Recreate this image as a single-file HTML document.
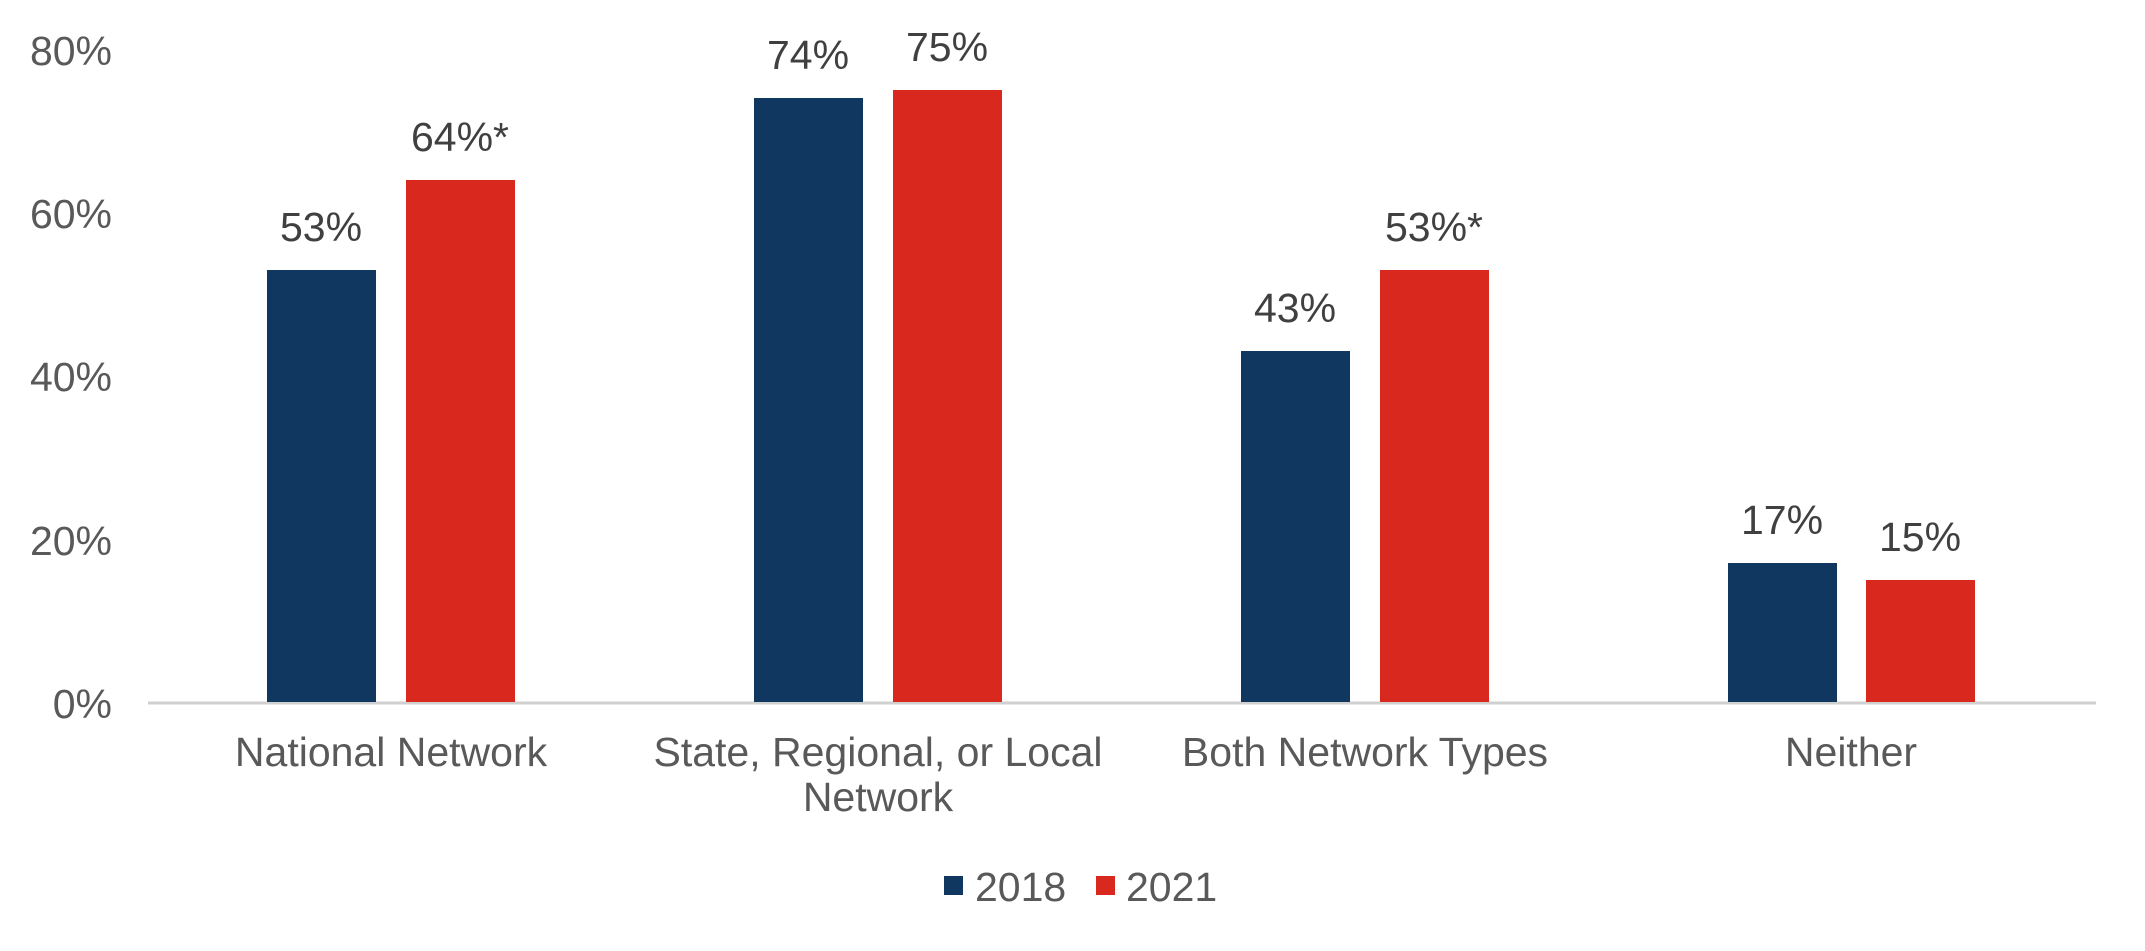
<!DOCTYPE html>
<html><head><meta charset="utf-8"><style>
html,body{margin:0;padding:0;background:#fff;}
svg{display:block;font-family:"Liberation Sans",Arial,sans-serif;}
</style></head><body>
<svg width="2145" height="951" viewBox="0 0 2145 951" xmlns="http://www.w3.org/2000/svg">
<g font-size="41" fill="#595959" text-anchor="end">
<text x="112" y="65">80%</text>
<text x="112" y="228">60%</text>
<text x="112" y="391">40%</text>
<text x="112" y="555">20%</text>
<text x="112" y="718">0%</text>
</g>
<line x1="148" y1="703" x2="2096" y2="703" stroke="#d0d0d0" stroke-width="3"/>
<g fill="#10375f">
<rect x="267" y="270" width="109" height="432"/>
<rect x="754" y="98" width="109" height="604"/>
<rect x="1241" y="351" width="109" height="351"/>
<rect x="1728" y="563" width="109" height="139"/>
</g>
<g fill="#d9291e">
<rect x="406" y="180" width="109" height="522"/>
<rect x="893" y="90" width="109" height="612"/>
<rect x="1380" y="270" width="109" height="432"/>
<rect x="1866" y="580" width="109" height="122"/>
</g>
<g font-size="41" fill="#404040" text-anchor="middle">
<text x="321" y="241">53%</text>
<text x="460" y="151">64%*</text>
<text x="808" y="69">74%</text>
<text x="947" y="61">75%</text>
<text x="1295" y="322">43%</text>
<text x="1434" y="241">53%*</text>
<text x="1782" y="534">17%</text>
<text x="1920" y="551">15%</text>
</g>
<g font-size="41" fill="#595959" text-anchor="middle">
<text x="391" y="766">National Network</text>
<text x="878" y="766">State, Regional, or Local</text>
<text x="878" y="811">Network</text>
<text x="1365" y="766">Both Network Types</text>
<text x="1851" y="766">Neither</text>
</g>
<rect x="944" y="876" width="19" height="19" fill="#10375f"/>
<text x="975" y="901" font-size="41" fill="#595959">2018</text>
<rect x="1096" y="876" width="19" height="19" fill="#d9291e"/>
<text x="1126" y="901" font-size="41" fill="#595959">2021</text>
</svg>
</body></html>
